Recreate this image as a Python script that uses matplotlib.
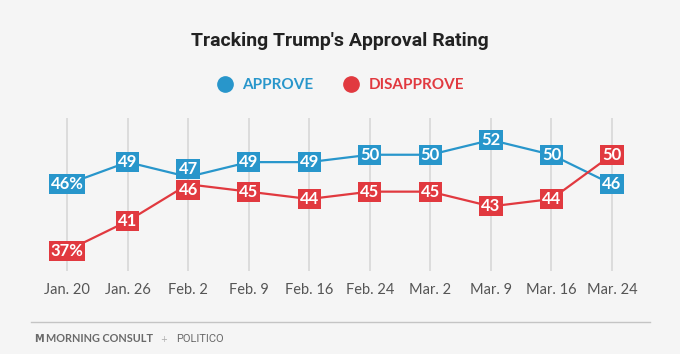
import matplotlib.pyplot as plt
from matplotlib.lines import Line2D

dates = ['Jan. 20', 'Jan. 26', 'Feb. 2', 'Feb. 9', 'Feb. 16', 'Feb. 24',
         'Mar. 2', 'Mar. 9', 'Mar. 16', 'Mar. 24']
approve = [46, 49, 47, 49, 49, 50, 50, 52, 50, 46]
disapprove = [37, 41, 46, 45, 44, 45, 45, 43, 44, 50]

BLUE = '#2896cb'
RED = '#e1393f'
BG = '#f5f5f5'

fig = plt.figure(figsize=(6.8, 3.54), dpi=100, facecolor=BG)
ax = fig.add_axes([0.054, 0.2345, 0.8906, 0.4322], facecolor=BG)

x = list(range(len(dates)))
for xi in x:
    ax.axvline(xi, color='#dcdcdc', lw=1.4, zorder=0)

ax.plot(x, approve, color=BLUE, lw=1.6, zorder=2)
ax.plot(x, disapprove, color=RED, lw=1.6, zorder=2)


# boxes that would collide are nudged apart (points)
def box_labels(vals, color, z, nudge):
    for i, v in enumerate(vals):
        s = f'{v}%' if i == 0 else str(v)
        ax.annotate(s, (i, v), xytext=(0, nudge.get(i, 0)), textcoords='offset points',
                    ha='center', va='center', color='white',
                    fontsize=12, fontweight='bold', family='Lato', zorder=z,
                    bbox=dict(boxstyle='square,pad=0.12', fc=color, ec='none'))


box_labels(approve, BLUE, 3, {2: 5.5})
box_labels(disapprove, RED, 4, {2: -4})

ax.set_xlim(-0.5, 9.5)
ax.set_ylim(34.25, 54.98)
ax.set_xticks(x)
ax.set_xticklabels(dates, family='Lato', fontsize=10.5, color='#555555')
ax.tick_params(axis='x', length=0, pad=9)
ax.set_yticks([])
for sp in ax.spines.values():
    sp.set_visible(False)

fig.text(0.5, 1 - 41 / 354, "Tracking Trump's Approval Rating", ha='center', va='center',
         fontsize=14, fontweight='bold', family='Roboto', color='#222222')

handles = [Line2D([], [], marker='o', ls='none', color=BLUE, markersize=11),
           Line2D([], [], marker='o', ls='none', color=RED, markersize=11)]
leg = fig.legend(handles, ['APPROVE', 'DISAPPROVE'], loc='center',
                 bbox_to_anchor=(0.5, 1 - 85 / 354), ncol=2, frameon=False,
                 handletextpad=0.5, columnspacing=1.9, handlelength=1.2,
                 prop={'family': 'Lato', 'weight': 'bold', 'size': 11})
for t, c in zip(leg.get_texts(), [BLUE, RED]):
    t.set_color(c)

fig.add_artist(Line2D([31 / 680, 650 / 680], [1 - 322 / 354] * 2,
                      transform=fig.transFigure, color='#c4c4c4', lw=1))
fy = 1 - 339 / 354
fig.text(44 / 680, fy, 'M', ha='right', va='center', fontsize=7,
         fontweight='bold', color='#6a6a6a', family='DejaVu Sans')
fig.text(46 / 680, fy, 'MORNING CONSULT', ha='left', va='center', fontsize=7.8,
         fontweight='bold', color='#6a6a6a', family='Lato')
fig.text(164 / 680, fy, '+', ha='center', va='center', fontsize=6, color='#aaaaaa')
fig.text(176 / 680, fy, 'POLITICO', ha='left', va='center', fontsize=8,
         color='#6a6a6a', family='Roboto')

fig.savefig('out.png', dpi=100, facecolor=BG)
